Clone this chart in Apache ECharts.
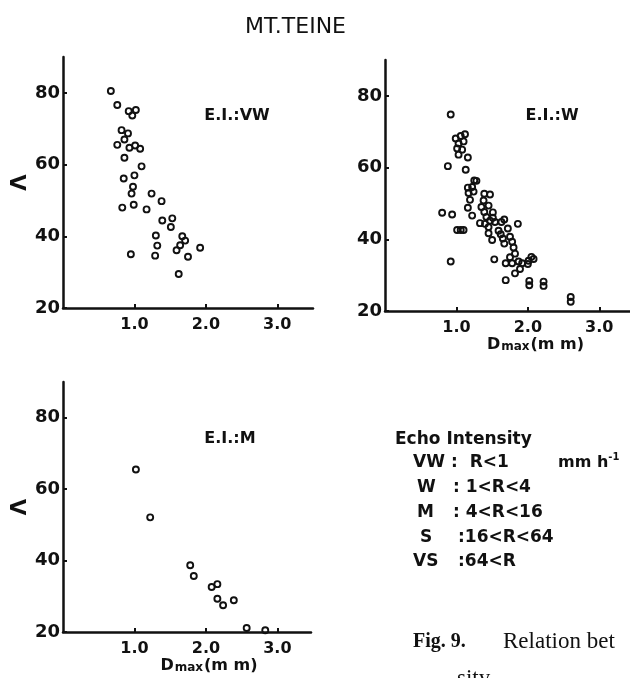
<!DOCTYPE html>
<html>
<head>
<meta charset="utf-8">
<script src="https://cdn.jsdelivr.net/npm/echarts@6/dist/echarts.min.js"></script>
<style>
  html, body { margin: 0; padding: 0; background: #fff; }
  #chart { width: 630px; height: 678px; }
</style>
</head>
<body>
<div id="chart"></div>
<script>
// 数据 (Dmax 与 Λ)
var xTicks = [1, 2, 3];
var yTicks = [20, 40, 60, 80];

var dmaxVW = [0.67, 0.76, 0.92, 1.02, 0.97, 0.82, 0.91, 0.86, 0.76, 0.93, 1.01, 1.08, 0.86, 1.10, 0.85, 1.00, 0.98, 0.96, 1.24,
    0.83, 0.99, 1.17, 1.38, 1.39, 1.53, 1.51, 1.30, 1.67, 1.71, 1.64, 1.59, 1.32, 1.92, 0.95, 1.29, 1.75, 1.62];
var lamVW = [80.5, 76.6, 74.9, 75.2, 73.7, 69.6, 68.7, 67.0, 65.5, 64.7, 65.3, 64.4, 61.9, 59.5, 56.1, 57.0, 53.8, 51.9, 51.9,
    48.0, 48.8, 47.5, 49.8, 44.4, 45.0, 42.6, 40.2, 40.0, 38.8, 37.5, 36.1, 37.4, 36.8, 35.0, 34.6, 34.3, 29.5];

var dmaxW = [0.92, 0.99, 1.06, 1.12, 1.03, 1.10, 1.01, 1.08, 1.03, 1.16, 0.88, 1.13, 1.25, 1.28, 1.16, 1.22, 1.17, 1.24, 1.19,
    1.16, 1.22, 0.80, 0.94, 1.01, 1.06, 1.10, 1.39, 1.47, 1.35, 1.39, 1.42, 1.33, 1.40, 1.51, 1.51, 1.54, 1.45, 1.50,
    1.63, 1.67, 1.72, 1.62, 1.65, 1.67, 1.75, 1.78, 1.80, 1.82, 1.86, 1.75, 1.69, 1.78, 1.87, 1.92, 2.01, 2.05, 2.08,
    2.00, 1.89, 1.82, 1.53, 0.92, 1.69, 2.02, 2.02, 2.22, 2.22, 2.60, 2.60, 1.38, 1.45, 1.47, 1.45, 1.59];
var lamW = [74.8, 68.1, 68.8, 69.3, 66.7, 67.3, 65.3, 65.0, 63.6, 62.8, 60.4, 59.4, 56.4, 56.3, 54.4, 54.6, 52.9, 53.3, 51.0,
    48.8, 46.6, 47.4, 46.9, 42.6, 42.6, 42.6, 52.7, 52.5, 49.0, 47.6, 46.2, 44.5, 44.3, 47.5, 46.0, 44.8, 41.7, 39.8,
    44.8, 45.5, 43.0, 41.4, 40.2, 38.8, 40.7, 39.3, 37.7, 36.0, 44.3, 35.0, 33.3, 33.3, 33.8, 33.3, 34.0, 35.1, 34.5,
    33.1, 31.7, 30.5, 34.4, 33.8, 28.6, 28.4, 27.2, 28.2, 27.0, 23.9, 22.6, 50.8, 49.4, 45.2, 43.4, 42.4];

var dmaxM = [1.02, 1.22, 1.78, 1.83, 2.08, 2.16, 2.16, 2.24, 2.39, 2.57, 2.83];
var lamM = [65.5, 52.1, 38.7, 35.7, 32.6, 33.4, 29.3, 27.5, 28.9, 21.1, 20.5];

var panels = [
    { label: 'E.I.:VW', x: dmaxVW, y: lamVW },
    { label: 'E.I.:W', x: dmaxW, y: lamW },
    { label: 'E.I.:M', x: dmaxM, y: lamM }
];

var legendRows = [
    ['VW', ':  R<1'],
    ['W', ': 1<R<4'],
    ['M', ': 4<R<16'],
    ['S', ':16<R<64'],
    ['VS', ':64<R']
];

var font = 'DejaVu Sans';
var ink = '#111';

var grids = [
    { left: 63, top: 57, width: 250, height: 251 },
    { left: 385, top: 60, width: 245, height: 251 },
    { left: 63, top: 382, width: 248, height: 250 }
];
grids.forEach(function(g) { g.outerBoundsMode = 'none'; });

var dmaxRich = {
    d: { fontFamily: font, fontWeight: 'bold', fontSize: 16, color: ink },
    s: { fontFamily: font, fontWeight: 'bold', fontSize: 12, color: ink, padding: [4, 1, 0, 1] }
};

var xAxes = grids.map(function(g, i) {
    var ax = {
        type: 'value',
        gridIndex: i,
        min: 0,
        max: +(g.width / 71.5).toFixed(2),
        interval: 1,
        axisLine: { lineStyle: { color: ink, width: 2.5 } },
        axisTick: { inside: true, length: 4, customValues: xTicks, lineStyle: { color: ink, width: 2 } },
        axisLabel: {
            customValues: xTicks,
            formatter: function(v) { return v.toFixed(1); },
            color: ink, fontFamily: font, fontWeight: 'bold', fontSize: 16, margin: 9
        },
        splitLine: { show: false }
    };
    if (i > 0) {
        ax.name = '{d|D}{s|max}{d|(m m)}';
        ax.nameLocation = 'middle';
        ax.nameGap = 26;
        ax.nameTextStyle = { rich: dmaxRich, padding: [0, 0, 0, i === 1 ? 56 : 44] };
    }
    return ax;
});

var yAxes = grids.map(function(g, i) {
    return {
        type: 'value',
        gridIndex: i,
        min: 20,
        max: 90,
        interval: 20,
        name: i === 1 ? '' : 'Λ',
        nameLocation: 'middle',
        nameGap: 30,
        nameTextStyle: { color: ink, fontFamily: font, fontWeight: 'bold', fontSize: 21 },
        axisLine: { show: true, lineStyle: { color: ink, width: 2.5 } },
        axisTick: { show: true, inside: true, length: 4, customValues: yTicks, lineStyle: { color: ink, width: 2 } },
        axisLabel: {
            customValues: yTicks,
            color: ink, fontFamily: font, fontWeight: 'bold', fontSize: 18, margin: 3
        },
        splitLine: { show: false }
    };
});

var series = panels.map(function(p, i) {
    var pts = p.x.map(function(d, k) { return [d, p.y[k]]; });
    return {
        name: p.label,
        type: 'scatter',
        xAxisIndex: i,
        yAxisIndex: i,
        symbol: 'circle',
        symbolSize: 6,
        itemStyle: { color: 'rgba(0,0,0,0)', borderColor: ink, borderWidth: 1.9, opacity: 1 },
        data: pts
    };
});

// 文本
var graphics = [];
var eiPos = [[237, 116], [552, 116], [230, 439]];
panels.forEach(function(p, i) {
    graphics.push({
        type: 'text',
        style: {
            x: eiPos[i][0], y: eiPos[i][1], text: p.label,
            font: 'bold 16px "' + font + '"', fill: ink,
            textAlign: 'center', textVerticalAlign: 'middle'
        }
    });
});

graphics.push({
    type: 'text',
    style: {
        x: 395, y: 440, text: 'Echo Intensity',
        font: 'bold 17px "' + font + '"', fill: ink, textVerticalAlign: 'middle'
    }
});
var keyX = [413, 417, 417, 420, 413];
var restX = [451, 453, 453, 458, 458];
legendRows.forEach(function(r, k) {
    var y = 463 + k * 24.7;
    graphics.push({
        type: 'text',
        style: { x: keyX[k], y: y, text: r[0], font: 'bold 17px "' + font + '"', fill: ink, textVerticalAlign: 'middle' }
    });
    graphics.push({
        type: 'text',
        style: { x: restX[k], y: y, text: r[1], font: 'bold 17px "' + font + '"', fill: ink, textVerticalAlign: 'middle' }
    });
});
graphics.push({
    type: 'text',
    style: {
        x: 558, y: 463, text: '{n|mm h}{s|-1}',
        textVerticalAlign: 'middle',
        rich: {
            n: { fontFamily: font, fontWeight: 'bold', fontSize: 16, fill: ink },
            s: { fontFamily: font, fontWeight: 'bold', fontSize: 10, fill: ink, padding: [0, 0, 12, 0] }
        }
    }
});
graphics.push({
    type: 'text',
    style: {
        x: 413, y: 642, text: 'Fig. 9.',
        font: 'bold 20px "Liberation Serif"', fill: ink, textVerticalAlign: 'middle'
    }
});
graphics.push({
    type: 'text',
    style: {
        x: 503, y: 642, text: 'Relation bet',
        font: '23px "Liberation Serif"', fill: ink, textVerticalAlign: 'middle'
    }
});
graphics.push({
    type: 'text',
    style: { x: 457, y: 667, text: 'sity', font: '23px "Liberation Serif"', fill: ink, textVerticalAlign: 'top' }
});

var myChart = echarts.init(document.getElementById('chart'));
var option = {
    backgroundColor: '#fff',
    animation: false,
    title: {
        text: 'MT.TEINE',
        left: 240,
        top: 11,
        textStyle: { fontFamily: font, fontWeight: 'normal', fontSize: 22, color: ink }
    },
    grid: grids,
    xAxis: xAxes,
    yAxis: yAxes,
    series: series,
    graphic: graphics
};
myChart.setOption(option);
</script>
</body>
</html>
